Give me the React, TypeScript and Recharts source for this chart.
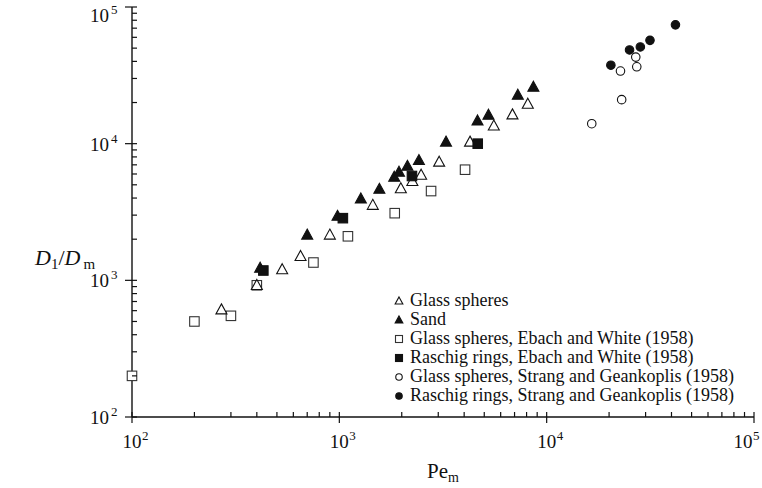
import React from 'react';
import { ScatterChart, Scatter, XAxis, YAxis, Legend } from 'recharts';

const SERIF = "'Liberation Serif', 'Times New Roman', Times, 'Nimbus Roman', 'DejaVu Serif', serif";

// Pe_m (x) and D_L/D_m (y) values
const glassSpheresPe = [270, 400, 530, 650, 900, 1450, 1980, 2250, 2480, 3030, 4270, 5560, 6840, 8110];
const glassSpheresD = [610, 920, 1200, 1500, 2150, 3550, 4700, 5300, 5900, 7350, 10300, 13500, 16300, 19500];
const sandPe = [415, 700, 980, 1270, 1560, 1840, 1940, 2130, 2420, 3270, 4640, 5240, 7260, 8630];
const sandD = [1230, 2150, 2950, 3950, 4650, 5700, 6200, 6850, 7550, 10300, 14700, 16200, 22700, 26000];
const ebachGlassPe = [100, 200, 300, 400, 750, 1100, 1850, 2770, 4040];
const ebachGlassD = [200, 500, 550, 920, 1350, 2100, 3100, 4500, 6450];
const ebachRaschigPe = [430, 1040, 2240, 4650];
const ebachRaschigD = [1180, 2850, 5800, 10000];
const strangGlassPe = [16500, 22700, 23000, 26900, 27200];
const strangGlassD = [14000, 34000, 21000, 43000, 36500];
const strangRaschigPe = [20400, 25100, 28300, 31500, 41800];
const strangRaschigD = [37500, 48500, 51000, 57000, 74000];

const decades = [100, 1000, 10000, 100000];
const minorFactors = [2, 3, 4, 5, 6, 7, 8, 9];
const legendNames = [
  'Glass spheres',
  'Sand',
  'Glass spheres, Ebach and White (1958)',
  'Raschig rings, Ebach and White (1958)',
  'Glass spheres, Strang and Geankoplis (1958)',
  'Raschig rings, Strang and Geankoplis (1958)',
];

const zip = (xs: number[], ys: number[]) => xs.map((x, i) => ({ x, y: ys[i] }));

const allTicks: number[] = [];
decades.forEach((d, i) => {
  allTicks.push(d);
  if (i < decades.length - 1) minorFactors.forEach((f) => allTicks.push(d * f));
});

const isMajor = (v: number) => decades.includes(v);
const expOf = (v: number) => Math.round(Math.log10(v));

type Kind = 'triOpen' | 'triFilled' | 'sqOpen' | 'sqFilled' | 'circOpen' | 'circFilled';

const drawSymbol = (kind: Kind, cx: number, cy: number, s: number) => {
  const ink = '#111';
  const filled = kind.endsWith('Filled');
  const fill = filled ? ink : '#fff';
  const sw = 1.1;
  if (kind.startsWith('tri')) {
    const w = s * 1.1;
    const h = s;
    return (
      <path
        d={`M${cx},${cy - h * 0.58} L${cx + w / 2},${cy + h * 0.42} L${cx - w / 2},${cy + h * 0.42} Z`}
        fill={fill}
        stroke={ink}
        strokeWidth={sw}
        strokeLinejoin="miter"
      />
    );
  }
  if (kind.startsWith('sq')) {
    return <rect x={cx - s / 2} y={cy - s / 2} width={s} height={s} fill={fill} stroke={filled ? ink : '#333'} strokeWidth={sw} />;
  }
  return <circle cx={cx} cy={cy} r={s / 2} fill={fill} stroke={ink} strokeWidth={sw} />;
};

const shapeOf = (kind: Kind, s: number) => (p: any) => drawSymbol(kind, p.cx, p.cy, s);

const series: { name: string; kind: Kind; data: { x: number; y: number }[]; size: number }[] = [
  { name: legendNames[2], kind: 'sqOpen', data: zip(ebachGlassPe, ebachGlassD), size: 9.5 },
  { name: legendNames[0], kind: 'triOpen', data: zip(glassSpheresPe, glassSpheresD), size: 10 },
  { name: legendNames[1], kind: 'triFilled', data: zip(sandPe, sandD), size: 10 },
  { name: legendNames[3], kind: 'sqFilled', data: zip(ebachRaschigPe, ebachRaschigD), size: 9.5 },
  { name: legendNames[4], kind: 'circOpen', data: zip(strangGlassPe, strangGlassD), size: 8.5 },
  { name: legendNames[5], kind: 'circFilled', data: zip(strangRaschigPe, strangRaschigD), size: 8.5 },
];

const legendOrder: Kind[] = ['triOpen', 'triFilled', 'sqOpen', 'sqFilled', 'circOpen', 'circFilled'];

const XTick = (props: any) => {
  const { x, y, payload } = props;
  const v = payload.value;
  const major = isMajor(v);
  const cx = Math.min(x, 743);
  return (
    <g>
      <line x1={x} x2={x} y1={y - 5} y2={major ? y + 6 : y} stroke="#111" strokeWidth={1.2} />
      {major && (
        <g fontFamily={SERIF} fill="#111">
          <text x={cx} y={y + 31} fontSize={19} textAnchor="middle">10</text>
          <text x={cx + 10} y={y + 23} fontSize={13}>{expOf(v)}</text>
        </g>
      )}
    </g>
  );
};

const YTick = (props: any) => {
  const { x, y, payload } = props;
  const v = payload.value;
  const major = isMajor(v);
  const base = Math.max(y + 7, 22);
  return (
    <g>
      <line x1={major ? x - 7 : x} x2={x + 5} y1={y} y2={y} stroke="#111" strokeWidth={1.2} />
      {major && (
        <g fontFamily={SERIF} fill="#111">
          <text x={x - 23} y={base} fontSize={19} textAnchor="end">10</text>
          <text x={x - 21} y={base - 8} fontSize={13}>{expOf(v)}</text>
        </g>
      )}
    </g>
  );
};

const LegendContent = () => (
  <div style={{ fontFamily: SERIF, fontSize: 18, lineHeight: '19px', color: '#111' }}>
    {legendOrder.map((k, i) => (
      <div key={k} style={{ display: 'flex', alignItems: 'center', whiteSpace: 'nowrap', height: 19 }}>
        <svg width={12} height={12} style={{ marginRight: 5, flex: 'none' }}>
          {drawSymbol(k, 6, 6, k.startsWith('circ') ? 6.5 : 7)}
        </svg>
        <span>{legendNames[i]}</span>
      </div>
    ))}
  </div>
);

export default function App() {
  return (
    <div style={{ position: 'absolute', left: 0, top: 0, width: 762, height: 488, background: '#fff', fontFamily: SERIF }}>
      <ScatterChart width={762} height={488} margin={{ top: 7, right: 8, left: 0, bottom: 0 }}>
        <XAxis
          dataKey="x"
          type="number"
          scale="log"
          domain={[100, 100000]}
          ticks={allTicks}
          interval={0}
          tickSize={0}
          tickMargin={0}
          tickLine={false}
          tick={XTick}
          height={71}
          axisLine={{ stroke: '#111', strokeWidth: 1.4 }}
        />
        <XAxis
          xAxisId="top"
          orientation="top"
          type="number"
          scale="log"
          domain={[100, 100000]}
          height={0}
          tick={false}
          tickLine={false}
          axisLine={{ stroke: '#777', strokeWidth: 1.4 }}
        />
        <YAxis
          dataKey="y"
          type="number"
          scale="log"
          domain={[100, 100000]}
          ticks={allTicks}
          interval={0}
          tickSize={0}
          tickMargin={0}
          tickLine={false}
          tick={YTick}
          width={132}
          axisLine={{ stroke: '#111', strokeWidth: 1.4 }}
        />
        <YAxis
          yAxisId="right"
          orientation="right"
          type="number"
          scale="log"
          domain={[100, 100000]}
          width={0}
          tick={false}
          tickLine={false}
          axisLine={{ stroke: '#555', strokeWidth: 1.4 }}
        />
        {series.map((s) => (
          <Scatter
            key={s.name}
            name={s.name}
            data={s.data}
            isAnimationActive={false}
            shape={shapeOf(s.kind, s.size)}
          />
        ))}
        <Legend
          layout="vertical"
          align="center"
          verticalAlign="middle"
          content={LegendContent}
          wrapperStyle={{ left: 393, top: 291, width: 'auto', height: 'auto' }}
        />
        <text x={443} y={478} fontFamily={SERIF} fontSize={21} textAnchor="middle" fill="#111">
          Pe<tspan fontSize={14} dy={4}>m</tspan>
        </text>
        <text x={35} y={265} fontFamily={SERIF} fontSize={22} fill="#111">
          <tspan fontStyle="italic">D</tspan>
          <tspan fontSize={15} dy={4}>1</tspan>
          <tspan dy={-4}>/</tspan>
          <tspan fontStyle="italic">D</tspan>
          <tspan fontSize={15} dy={4} dx={3}>m</tspan>
        </text>
      </ScatterChart>
    </div>
  );
}
